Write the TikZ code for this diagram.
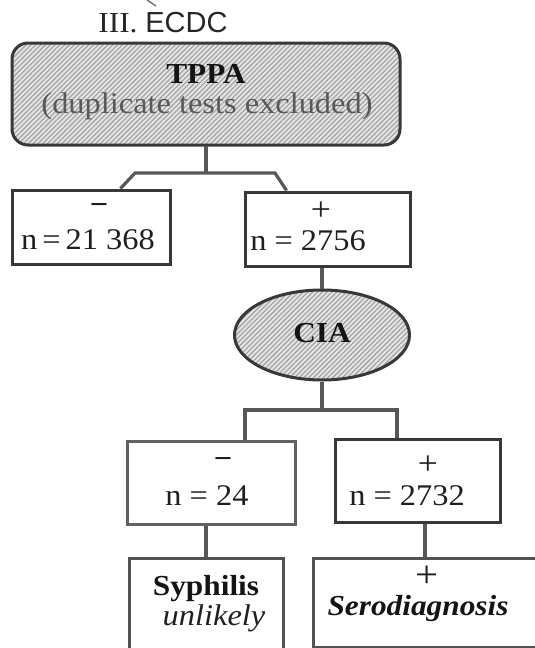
\documentclass[tikz,border=0pt]{standalone}
\usepackage{fontspec}
\setmainfont{Liberation Serif}[FakeStretch=1.08]
\setsansfont{Liberation Sans}
\usetikzlibrary{shapes.geometric,patterns.meta,calc}

\begin{document}
\begin{tikzpicture}[x=1pt,y=-1pt,
  box/.style={draw=black!78, line width=3pt, inner sep=0pt},
  conn/.style={draw=black!66, line width=3.2pt},
  hatched/.style={preaction={fill=gray!22},
    pattern={Lines[angle=45,distance=3.4pt,line width=1.1pt]}, pattern color=gray!75},
  lbl/.style={inner sep=0pt, text=black!88, font=\fontsize{30}{34}\selectfont},
  head/.style={inner sep=0pt, text=black!92, font=\fontsize{29}{32}\selectfont\bfseries},
]
\useasboundingbox (0,0) rectangle (535,648);
\clip (0,0) rectangle (535,648);

% heading
\draw[line width=1.4pt, black!55] (147,0) -- (156,6);
\node[inner sep=0pt, text=black!85] (title) at (163,23)
  {\fontsize{29}{32}\selectfont III.\ \sffamily ECDC};

% first test
\node[box, hatched, rounded corners=16pt, minimum width=388pt, minimum height=102pt]
  (tppa) at (206,94) {};
\node[head] (tppaT) at (206,74) {TPPA};
\node[lbl, text=black!65] (tppaS) at (207,106) {(duplicate tests excluded)};

\node[box, minimum width=158pt, minimum height=74pt] (neg1) at (91,227) {};
\node[lbl, font=\fontsize{30}{34}\selectfont\bfseries] (neg1s) at (99,209) {−};
\node[lbl] (neg1n) at (88,240) {n\,=\,21 368};

\node[box, minimum width=165pt, minimum height=74pt] (pos1) at (327.5,229) {};
\node[lbl, font=\fontsize{33}{36}\selectfont] (pos1s) at (321,211) {+};
\node[lbl] (pos1n) at (308,241) {n = 2756};

% second test
\node[box, hatched, ellipse, minimum width=175pt, minimum height=90pt] (cia) at (322,335) {};
\node[head] (ciaT) at (322,333) {CIA};

\node[box, draw=black!62, minimum width=168pt, minimum height=83pt] (neg2) at (211,482.5) {};
\node[lbl, font=\fontsize{30}{34}\selectfont\bfseries] (neg2s) at (223,463) {−};
\node[lbl] (neg2n) at (207,496) {n = 24};

\node[box, minimum width=165pt, minimum height=83pt] (pos2) at (417.5,480.5) {};
\node[lbl, font=\fontsize{33}{36}\selectfont] (pos2s) at (428,465) {+};
\node[lbl] (pos2n) at (407,496) {n = 2732};

% outcomes
\node[box, draw=black!68, minimum width=154pt, minimum height=124pt] (syph) at (206,620) {};
\node[head] (syphT) at (206,589) {Syphilis};
\node[lbl] (syphU) at (214,618) {\itshape unlikely};

\node[box, draw=black!68, minimum width=254pt, minimum height=89pt] (sero) at (440,602.5) {};
\node[lbl, font=\fontsize{38}{40}\selectfont] (seros) at (427,577) {+};
\node[head] (seroT) at (418,609) {\itshape Serodiagnosis};

% connectors
\coordinate (jt) at (205,173);
\coordinate (jtl) at (135,173);
\coordinate (jtr) at (275,173);
\draw[conn] (tppa.south) -- (tppa.south |- jt);
\draw[conn] ($(neg1.north west)+(110,0)$) -- (jtl) -- (jtr) -- ($(pos1.north west)+(43,0)$);

\draw[conn] (pos1.south -| cia.north) -- (cia.north);

\coordinate (jm) at (325,410);
\coordinate (jml) at (245,410);
\coordinate (jmr) at (397,410);
\draw[conn] (cia.south) -- (cia.south |- jm);
\draw[conn] (neg2.north -| jml) -- (jml) -- (jmr) -- (pos2.north -| jmr);

\draw[conn] (neg2.south -| syph.north) -- (syph.north);
\coordinate (xs) at (425,0);
\draw[conn] (pos2.south -| xs) -- (sero.north -| xs);
\end{tikzpicture}
\end{document}
